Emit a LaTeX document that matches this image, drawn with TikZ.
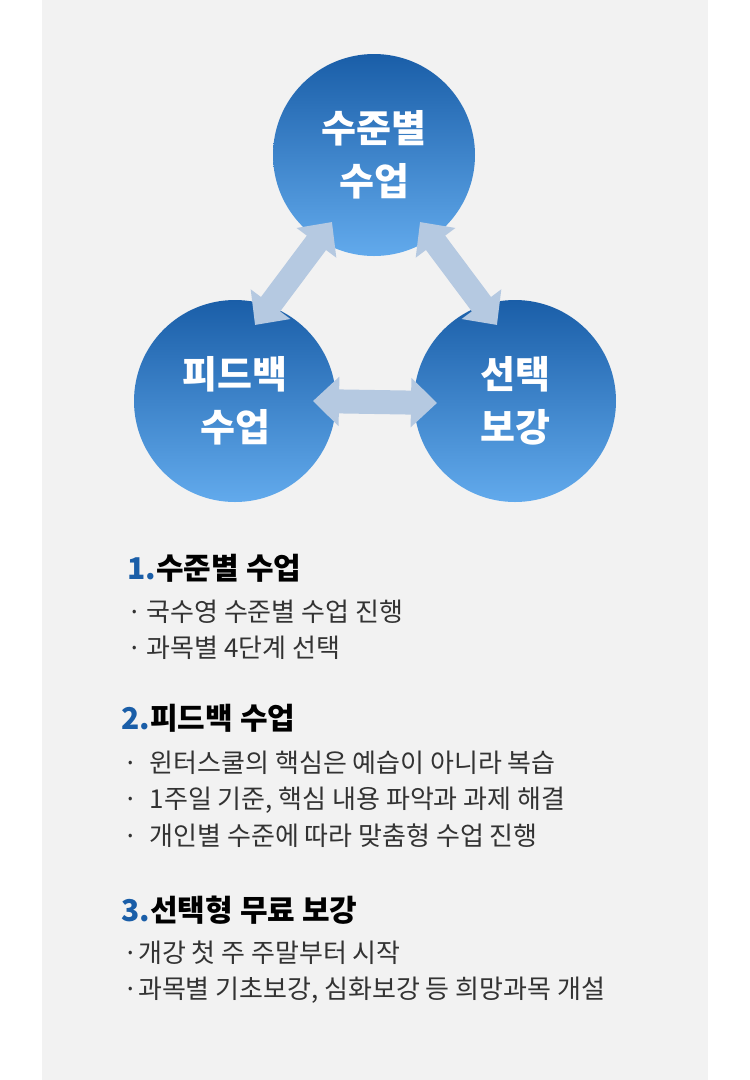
\documentclass[tikz,border=0pt]{standalone}
\usepackage{fontspec}
\setmainfont{Noto Sans CJK KR}
\newfontfamily\heavy{Noto Sans CJK KR Black}
\usetikzlibrary{arrows.meta}
\definecolor{dblue}{HTML}{1A5EA8}
\definecolor{lblue}{HTML}{62AAEC}
\definecolor{arr}{HTML}{B5C9E1}
\definecolor{bg}{HTML}{F2F2F2}
\definecolor{txt}{HTML}{333333}
\begin{document}
\begin{tikzpicture}[x=1pt,y=1pt,
  circ/.style={circle,minimum size=202pt,top color=dblue,bottom color=lblue,text=white,font=\fontsize{38}{53}\selectfont\bfseries,align=center},
  barrow/.style={arr,line width=24pt,{Triangle[width=48pt,length=26pt]}-{Triangle[width=48pt,length=26pt]}},
  head/.style={anchor=west,font=\fontsize{30}{34}\selectfont\bfseries,text=black},
  item/.style={anchor=west,font=\fontsize{26}{30}\selectfont,text=txt}]
\useasboundingbox (0,0) rectangle (750,-1080);
\fill[white] (0,0) rectangle (750,-1080);
\fill[bg] (42,0) rectangle (708,-1080);
\node[circ] (a) at (374,-155) {수준별\\수업};
\node[circ] (b) at (235,-401) {피드백\\수업};
\node[circ] (c) at (515,-401) {선택\\보강};
\coordinate (a1) at (332,-222); \coordinate (b1) at (255,-325);
\coordinate (a2) at (420,-222); \coordinate (c1) at (497,-325);
\coordinate (b2) at (313,-401); \coordinate (c2) at (437,-403);
\draw[barrow] (a1) -- (b1);
\draw[barrow] (a2) -- (c1);
\draw[barrow] (b2) -- (c2);
\node[head] (h1) at (124,-568) {\textcolor{dblue}{1.}수준별 수업};
\node[item] (i11) at (124,-612) {·\,국수영 수준별 수업 진행};
\node[item] (i12) at (124,-648) {·\,과목별 4단계 선택};
\node[head] (h2) at (118,-718) {\textcolor{dblue}{2.}피드백 수업};
\node[item] (i21) at (120,-763) {·\ \ 윈터스쿨의 핵심은 예습이 아니라 복습};
\node[item] (i22) at (120,-800) {·\ \ 1주일 기준, 핵심 내용 파악과 과제 해결};
\node[item] (i23) at (120,-836) {·\ \ 개인별 수준에 따라 맞춤형 수업 진행};
\node[head] (h3) at (118,-910) {\textcolor{dblue}{3.}선택형 무료 보강};
\node[item] (i31) at (120,-953) {·개강 첫 주 주말부터 시작};
\node[item] (i32) at (120,-990) {·과목별 기초보강, 심화보강 등 희망과목 개설};
\end{tikzpicture}
\end{document}
